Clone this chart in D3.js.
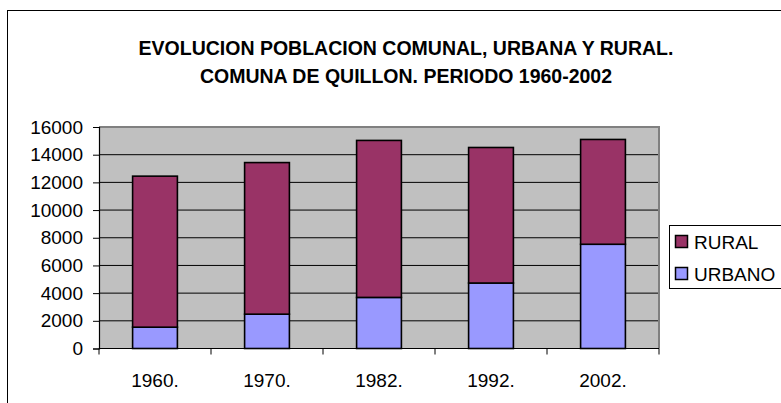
<!DOCTYPE html>
<html>
<head>
<meta charset="utf-8">
<script src="https://cdnjs.cloudflare.com/ajax/libs/d3/7.8.5/d3.min.js"></script>
<style>
  body { margin: 0; background: #fff; }
  text { font-family: "Liberation Sans", Arial, sans-serif; fill: #000; }
</style>
</head>
<body>
<svg id="chart" width="781" height="403"></svg>
<script>
// data
var years = ["1960.", "1970.", "1982.", "1992.", "2002."];
var urbano = [1540, 2480, 3690, 4730, 7530];
var rural = [10910, 10950, 11340, 9790, 7570];
var yTicks = [0, 2000, 4000, 6000, 8000, 10000, 12000, 14000, 16000];
var seriesNames = ["URBANO", "RURAL"];
var seriesColors = ["#9999FF", "#993366"];
var titleLines = ["EVOLUCION POBLACION COMUNAL, URBANA Y RURAL.", "COMUNA DE QUILLON. PERIODO 1960-2002"];

var svg = d3.select("#chart");

// outer chart frame (cut off on the right and bottom)
svg.append("rect")
    .attr("x", 7.5).attr("y", 10.5)
    .attr("width", 820).attr("height", 420)
    .attr("fill", "#fff").attr("stroke", "#000").attr("stroke-width", 1);

var plotLeft = 99, plotRight = 659, plotTop = 127, plotBottom = 348.5;

var x = d3.scaleBand().domain(years).range([plotLeft, plotRight]).paddingInner(0.6).paddingOuter(0.3);
var xb = d3.scaleBand().domain(years).range([plotLeft, plotRight]);
var y = d3.scaleLinear().domain([0, 16000]).range([plotBottom, plotTop]);

// plot area
svg.append("rect")
    .attr("x", plotLeft).attr("y", plotTop)
    .attr("width", plotRight - plotLeft).attr("height", plotBottom - plotTop)
    .attr("fill", "#C0C0C0");

// gridlines
svg.append("g").selectAll("line")
    .data(yTicks.slice(1, -1))
    .enter().append("line")
    .attr("x1", plotLeft).attr("x2", plotRight)
    .attr("y1", function (d) { return y(d); })
    .attr("y2", function (d) { return y(d); })
    .attr("stroke", "#000").attr("stroke-width", 1);

// plot border (top, right)
svg.append("path")
    .attr("d", "M" + plotLeft + "," + plotTop + "H" + plotRight + "V" + plotBottom)
    .attr("fill", "none").attr("stroke", "#808080").attr("stroke-width", 2);

// stacked bars
var rows = years.map(function (yr, i) {
    return { year: yr, URBANO: urbano[i], RURAL: rural[i] };
});
var stack = d3.stack().keys(seriesNames)(rows);

svg.append("g").selectAll("g")
    .data(stack)
    .enter().append("g")
    .attr("fill", function (d, i) { return seriesColors[i]; })
    .selectAll("rect")
    .data(function (d) { return d; })
    .enter().append("rect")
    .attr("x", function (d) { return x(d.data.year); })
    .attr("y", function (d) { return y(d[1]); })
    .attr("width", x.bandwidth())
    .attr("height", function (d) { return y(d[0]) - y(d[1]); })
    .attr("stroke", "#000").attr("stroke-width", 1.6);

// y axis
var yAxis = d3.axisLeft(y).tickValues(yTicks).tickSize(6).tickPadding(10).tickFormat(d3.format("d"));
var gy = svg.append("g").attr("transform", "translate(" + plotLeft + ",0)").call(yAxis);
gy.select(".domain").attr("stroke", "#000").attr("stroke-width", 1.2);
gy.selectAll(".tick line").attr("stroke", "#000");
gy.selectAll("text").attr("font-size", 19).attr("font-family", "Liberation Sans, Arial, sans-serif").attr("fill", "#000");

// x axis: ticks at category boundaries
var boundaries = years.map(function (d) { return xb(d); }).concat([plotRight]);
var gx = svg.append("g");
gx.append("line")
    .attr("x1", plotLeft).attr("x2", plotRight)
    .attr("y1", plotBottom).attr("y2", plotBottom)
    .attr("stroke", "#000").attr("stroke-width", 1.2);
gx.selectAll(".tk").data(boundaries).enter().append("line")
    .attr("x1", function (d) { return d; }).attr("x2", function (d) { return d; })
    .attr("y1", plotBottom).attr("y2", plotBottom + 6)
    .attr("stroke", "#000");
gx.selectAll("text").data(years).enter().append("text")
    .attr("x", function (d) { return xb(d) + xb.bandwidth() / 2; })
    .attr("y", 387)
    .attr("text-anchor", "middle")
    .attr("font-size", 19)
    .text(function (d) { return d; });

// title
svg.selectAll(".title").data(titleLines).enter().append("text")
    .attr("class", "title")
    .attr("x", 406)
    .attr("y", function (d, i) { return 55 + i * 28; })
    .attr("text-anchor", "middle")
    .attr("font-size", 19.5)
    .attr("font-weight", "bold")
    .text(function (d) { return d; });

// legend (RURAL on top)
var legend = svg.append("g");
legend.append("rect")
    .attr("x", 669.5).attr("y", 225.5)
    .attr("width", 130).attr("height", 63)
    .attr("fill", "#fff").attr("stroke", "#000").attr("stroke-width", 1);
var legendItems = [1, 0];
legend.selectAll(".item").data(legendItems).enter().append("rect")
    .attr("x", 675.5)
    .attr("y", function (d, i) { return 235.5 + i * 32; })
    .attr("width", 12).attr("height", 12)
    .attr("fill", function (d) { return seriesColors[d]; })
    .attr("stroke", "#000").attr("stroke-width", 1.5);
legend.selectAll(".lt").data(legendItems).enter().append("text")
    .attr("x", 694)
    .attr("y", function (d, i) { return 249 + i * 32; })
    .attr("font-size", 19)
    .text(function (d) { return seriesNames[d]; });
</script>
</body>
</html>
